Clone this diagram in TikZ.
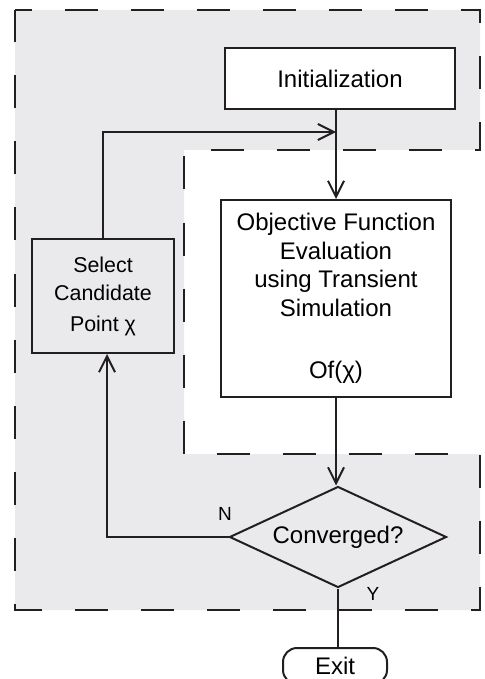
\documentclass[tikz,border=0pt]{standalone}
\usepackage{fontspec}
\setmainfont{Liberation Sans}
\usepackage{tikz}
\usetikzlibrary{arrows.meta,calc,shapes.geometric}
\definecolor{bggray}{RGB}{234,234,236}
\definecolor{ink}{RGB}{35,31,32}
\tikzstyle{line}=[draw=ink,line width=1pt]
\tikzstyle{arrow}=[line,-{Straight Barb[length=8pt,width=8pt]}]
\tikzstyle{block}=[draw=ink,line width=1pt,fill=white,align=center,inner sep=0pt]
\tikzstyle{region}=[draw=ink,line width=1pt,fill=bggray,dash pattern=on 16.5pt off 16.5pt,dash phase=8.25pt]

\begin{document}
\begin{tikzpicture}[x=0.5pt,y=-0.5pt,font=\fontsize{12pt}{14.25pt}\selectfont]
\useasboundingbox (0,0) rectangle (485,679);
\draw[region] (15,10)--(480,10)--(480,150)--(184,150)--(184,454)--(480,454)--(480,610)--(15,610)--cycle;
\node[block,minimum width=115pt,minimum height=30.5pt](init)at (340,78.5){Initialization};
\node[block,minimum width=115pt,minimum height=98.5pt](obj)at (336,298.5){Objective Function\\Evaluation\\using Transient\\Simulation\\[17pt]Of(χ)};
\node[block,fill=bggray,minimum width=71pt,minimum height=57pt,font=\fontsize{10.7pt}{14pt}\selectfont](sel)at (103,296){Select\\Candidate\\[1.5pt]Point χ};
\node[block,fill=bggray,shape=diamond,aspect=2.15,minimum width=108.5pt,minimum height=50.5pt](dec)at (338,537){Converged?};
\node[block,rounded corners=7pt,minimum width=52pt,minimum height=18pt](exit)at (335,666){Exit};
\node[font=\fontsize{9.5pt}{11pt}\selectfont](lblN)at (225,514){N};
\node[font=\fontsize{9.5pt}{11pt}\selectfont](lblY)at (373,594){Y};
\coordinate (join) at ($(obj.north)+(0,-67)$);
\draw[arrow] (obj.north |- init.south)--(obj.north);
\draw[arrow] (sel.north) |- (join);
\draw[arrow] (obj.south)--(obj.south |- dec.north);
\draw[arrow] (dec.west) -| ($(sel.south)+(4,0)$);
\draw[line] (dec.south)--(dec.south |- exit.north);
\end{tikzpicture}
\end{document}
